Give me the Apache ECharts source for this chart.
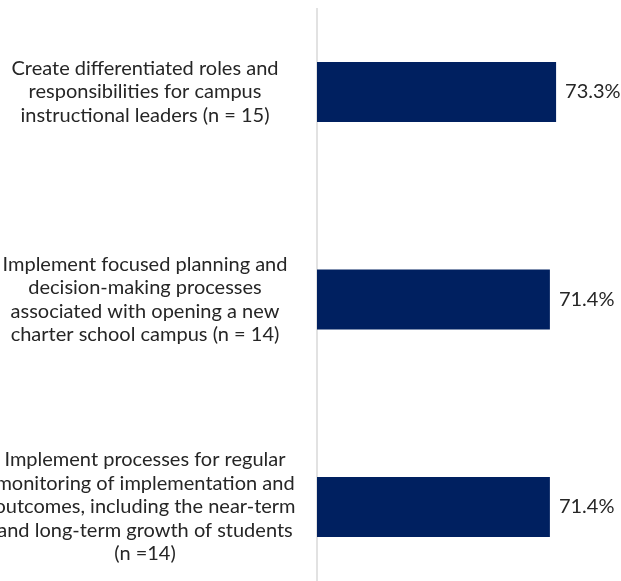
<!DOCTYPE html>
<html>
<head>
<meta charset="utf-8">
<script src="https://cdn.jsdelivr.net/npm/echarts@6/dist/echarts.min.js"></script>
<style>
html,body{margin:0;padding:0;background:#fff;}
#chart{width:621px;height:581px;}
</style>
</head>
<body>
<div id="chart"></div>
<script>
var categories = [
  "Create differentiated roles and\nresponsibilities for campus\ninstructional leaders (n = 15)",
  "Implement focused planning and\ndecision-making processes\nassociated with opening a new\ncharter school campus (n = 14)",
  "Implement processes for regular\nmonitoring of implementation and\noutcomes, including the near-term\nand long-term growth of students\n(n =14)"
];
var values = [73.3, 71.4, 71.4];

var chart = echarts.init(document.getElementById('chart'));
chart.setOption({
  backgroundColor: '#ffffff',
  animation: false,
  graphic: [{
    type: 'line',
    shape: {x1: 317, y1: 8, x2: 317, y2: 581},
    style: {stroke: '#d9d9d9', lineWidth: 1.5},
    z: 0
  }],
  grid: {left: 317, right: 0, top: 92, bottom: 74, containLabel: false, outerBoundsMode: 'none'},
  xAxis: {
    type: 'value', min: 0, max: 93.2, show: false
  },
  yAxis: {
    type: 'category',
    data: categories,
    inverse: true,
    boundaryGap: false,
    axisLine: {show: false},
    axisTick: {show: false},
    splitLine: {show: false},
    axisLabel: {
      align: 'center',
      margin: 172,
      color: '#262626',
      fontFamily: 'Lato',
      fontSize: 20,
      lineHeight: 23.5
    }
  },
  series: [{
    type: 'bar',
    data: values,
    barWidth: 60,
    itemStyle: {color: '#002060'},
    label: {
      show: true,
      position: 'right',
      distance: 9,
      color: '#262626',
      fontFamily: 'Lato',
      fontSize: 20,
      formatter: function (p) { return p.value.toFixed(1) + '%'; }
    }
  }]
});
</script>
</body>
</html>
